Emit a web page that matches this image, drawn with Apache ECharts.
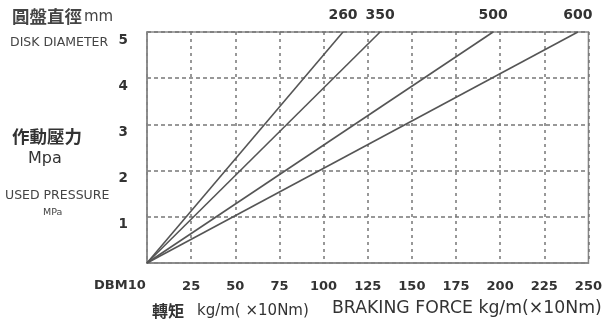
<!DOCTYPE html>
<html><head><meta charset="utf-8">
<script src="https://cdn.jsdelivr.net/npm/echarts@6/dist/echarts.min.js"></script>
<style>html,body{margin:0;padding:0;background:#fff}#c{width:605px;height:325px}</style>
</head><body><div id="c"></div>
<script>
// Data
var xTicks = [0, 25, 50, 75, 100, 125, 150, 175, 200, 225, 250];
var yTicks = [0, 1, 2, 3, 4, 5];
var diskNames = ['260', '350', '500', '600'];
var forceAtOrigin = [0, 0, 0, 0];
var forceAt5MPa = [111, 132, 196, 244];
var pressureStart = 0;
var pressureEnd = 5;

var latin = 'DejaVu Sans';
var cjk = 'Noto Sans CJK TC';
var chart = echarts.init(document.getElementById('c'));
var series = diskNames.map(function (name, i) {
  return {
    type: 'line', name: name, symbol: 'circle', symbolSize: 0.01, showSymbol: true,
    itemStyle: { color: '#555' },
    lineStyle: { color: '#555', width: 1.6 },
    label: { show: false },
    data: [
      [forceAtOrigin[i], pressureStart],
      { value: [forceAt5MPa[i], pressureEnd], label: { show: true, formatter: name, position: 'top', distance: 10, color: '#333', fontSize: 14, fontWeight: 'bold', fontFamily: latin } }
    ],
    silent: true, animation: false
  };
});
chart.setOption({
  animation: false,
  grid: { left: 147, right: 12, top: 32, bottom: 62, show: true, borderColor: '#888', borderWidth: 1.5 },
  xAxis: {
    type: 'value', min: 0, max: 250, interval: 25,
    axisLine: { show: true, lineStyle: { color: '#888', width: 1.5 } },
    axisTick: { show: false },
    splitLine: { show: true, lineStyle: { color: '#777', type: [3, 4], width: 1.5 } },
    axisLabel: {
      margin: 17, color: '#333', fontSize: 13, fontFamily: latin, fontWeight: 'bold',
      formatter: function (v) { return v === 0 ? '' : String(v); },
      showMaxLabel: true
    }
  },
  yAxis: {
    type: 'value', min: 0, max: 5, interval: 1,
    axisLine: { show: true, lineStyle: { color: '#888', width: 1.5 } },
    axisTick: { show: false },
    splitLine: { show: true, lineStyle: { color: '#777', type: [4, 3], width: 1.5 } },
    axisLabel: {
      margin: 19, color: '#333', fontSize: 13.5, fontFamily: latin, fontWeight: 'bold',
      verticalAlign: 'top', lineHeight: 16,
      formatter: function (v) { return v === 0 ? '' : String(v); }
    }
  },
  graphic: [
    { type: 'text', left: 12, top: 8, style: { text: '圓盤直徑', fontSize: 17.5, fontWeight: 'bold', fill: '#444', fontFamily: cjk } },
    { type: 'text', left: 84, top: 10, style: { text: 'mm', fontSize: 15, fill: '#444', fontFamily: latin } },
    { type: 'text', left: 10, top: 36, style: { text: 'DISK DIAMETER', fontSize: 12.5, fill: '#444', fontFamily: latin } },
    { type: 'text', left: 12, top: 128, style: { text: '作動壓力', fontSize: 17.5, fontWeight: 'bold', fill: '#333', fontFamily: cjk } },
    { type: 'text', left: 28, top: 151, style: { text: 'Mpa', fontSize: 16, fill: '#333', fontFamily: latin } },
    { type: 'text', left: 5, top: 189, style: { text: 'USED PRESSURE', fontSize: 12.5, fill: '#444', fontFamily: latin } },
    { type: 'text', left: 43, top: 208, style: { text: 'MPa', fontSize: 9.5, fill: '#444', fontFamily: latin } },
    { type: 'text', left: 94, top: 279, style: { text: 'DBM10', fontSize: 13, fontWeight: 'bold', fill: '#333', fontFamily: latin } },
    { type: 'text', left: 152, top: 303, style: { text: '轉矩', fontSize: 16, fontWeight: 'bold', fill: '#333', fontFamily: cjk } },
    { type: 'text', left: 197, top: 304, style: { text: 'kg/m( ×10Nm)', fontSize: 15, fill: '#333', fontFamily: latin } },
    { type: 'text', left: 332, top: 300, style: { text: 'BRAKING FORCE kg/m(×10Nm)', fontSize: 17.3, fill: '#333', fontFamily: latin } }
  ],
  series: series
});
</script></body></html>
